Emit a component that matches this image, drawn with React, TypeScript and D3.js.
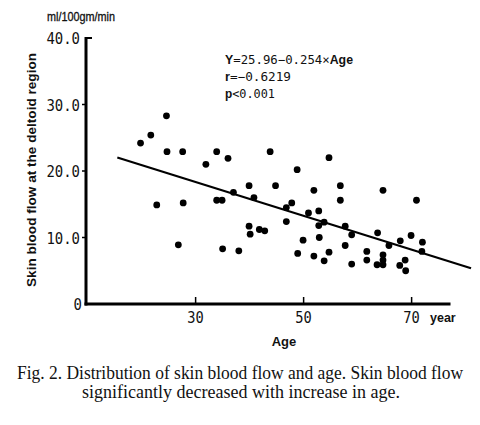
import React from "react";
import * as d3 from "d3";

const ages: number[] = [
  19.8, 21.7, 24.6, 24.7, 27.6, 33.9, 36.0, 31.9, 37.0, 22.8,
  27.7, 33.9, 34.9, 26.8, 35.0, 38.0, 43.8, 54.7, 48.8, 39.9,
  44.8, 51.9, 56.8, 64.7, 40.8, 47.8, 46.8, 56.8, 70.9, 50.9,
  52.8, 46.8, 52.8, 53.8, 39.9, 40.1, 41.8, 42.8, 57.7, 63.7,
  58.9, 49.9, 52.9, 69.9, 67.9, 72.0, 57.7, 65.8, 48.9, 51.9,
  54.7, 53.8, 61.7, 71.9, 64.7, 61.7, 64.7, 68.8, 58.9, 63.6,
  64.7, 67.8, 68.9,
];
const flows: number[] = [
  24.2, 25.4, 28.3, 22.9, 22.9, 22.9, 21.9, 21.0, 16.8, 14.9,
  15.2, 15.6, 15.6, 8.9, 8.3, 8.0, 22.9, 22.0, 20.2, 17.8,
  17.8, 17.1, 17.8, 17.1, 16.0, 15.2, 14.5, 15.6, 15.6, 13.7,
  14.0, 12.4, 11.8, 12.3, 11.7, 10.5, 11.2, 11.0, 11.7, 10.7,
  10.4, 9.6, 10.0, 10.3, 9.5, 9.3, 8.8, 8.8, 7.6, 7.2,
  7.8, 6.5, 7.9, 7.9, 7.4, 6.6, 6.6, 6.6, 6.0, 5.9,
  5.9, 5.8, 5.0,
];
const yTicks: number[] = [0, 10, 20, 30, 40];
const yTickLabels: string[] = ["0", "10.0", "20.0", "30.0", "40.0"];
const xTicks: number[] = [30, 50, 70];
const regIntercept = 25.96;
const regSlope = -0.254;
const regRange: number[] = [15.5, 81];

const annotation: string[] = ["25.96−0.254×", "−0.6219", "<0.001"];

export default function App() {
  const x = d3.scaleLinear().domain([9.7, 77.2]).range([86, 450.5]);
  const y = d3.scaleLinear().domain([0, 40]).range([304, 38]);
  const line = d3
    .line<number>()
    .x((a) => x(a))
    .y((a) => y(regIntercept + regSlope * a));
  const mono = "'DejaVu Sans Mono', monospace";
  const sans = "'Liberation Sans', Arial, sans-serif";
  const serif = "'Liberation Serif', 'Times New Roman', serif";
  return (
    <svg
      width={480}
      height={425}
      style={{ position: "absolute", left: 0, top: 0, background: "#fff" }}
    >
      <rect x={0} y={0} width={480} height={425} fill="#fff" />
      {/* unit label */}
      <text x={47} y={21} fontFamily={sans} fontSize={12} textLength={68} lengthAdjust="spacingAndGlyphs" fill="#111" stroke="#111" strokeWidth={0.3}>
        ml/100gm/min
      </text>
      {/* y axis */}
      <line x1={x(9.7)} x2={x(9.7)} y1={y(40) - 1} y2={y(0) + 1.5} stroke="#000" strokeWidth={3} />
      {yTicks.map((t, i) => (
        <g key={"yt" + t}>
          {t > 0 && t < 40 && (
            <line x1={x(9.7) - 4} x2={x(9.7)} y1={y(t)} y2={y(t)} stroke="#000" strokeWidth={1.5} />
          )}
          {t === 40 && (
            <line x1={x(9.7)} x2={x(9.7) + 6} y1={y(t)} y2={y(t)} stroke="#000" strokeWidth={2} />
          )}
          <text
            x={t === 0 ? 82 : 80}
            y={y(t) + 6}
            textAnchor="end"
            fontFamily={mono}
            fontSize={16.5}
            textLength={yTickLabels[i].length * 8.4}
            lengthAdjust="spacingAndGlyphs"
            fill="#111"
          >
            {yTickLabels[i]}
          </text>
        </g>
      ))}
      {/* x axis */}
      <line x1={x(9.7) - 1.5} x2={x(77.2)} y1={y(0)} y2={y(0)} stroke="#000" strokeWidth={3} />
      {xTicks.map((t) => (
        <g key={"xt" + t}>
          <line x1={x(t)} x2={x(t)} y1={y(0)} y2={y(0) - 7} stroke="#000" strokeWidth={1.5} />
          <text
            x={x(t)}
            y={323}
            textAnchor="middle"
            fontFamily={mono}
            fontSize={16}
            textLength={16.5}
            lengthAdjust="spacingAndGlyphs"
            fill="#111"
          >
            {t}
          </text>
        </g>
      ))}
      <text x={430} y={322} fontFamily={sans} fontWeight="bold" fontSize={12.5} fill="#111">
        year
      </text>
      <text x={284} y={346} textAnchor="middle" fontFamily={sans} fontWeight="bold" fontSize={13} fill="#111">
        Age
      </text>
      {/* y title */}
      <text
        transform="translate(36,170) rotate(-90)"
        textAnchor="middle"
        fontFamily={sans}
        fontWeight="bold"
        fontSize={13}
        textLength={234}
        lengthAdjust="spacingAndGlyphs"
        fill="#111"
      >
        Skin blood flow at the deltoid region
      </text>
      {/* regression line */}
      <path d={line(regRange) || ""} stroke="#000" strokeWidth={2.2} fill="none" />
      {/* points */}
      {ages.map((a, i) => (
        <circle key={i} cx={x(a)} cy={y(flows[i])} r={3.4} fill="#000" />
      ))}
      {/* annotation */}
      <text x={225} y={64} fontSize={12} fill="#111" textLength={128} lengthAdjust="spacingAndGlyphs">
        <tspan fontFamily={sans} fontWeight="bold">Y</tspan>
        <tspan fontFamily={mono}>=</tspan>
        <tspan fontFamily={mono}>{annotation[0]}</tspan>
        <tspan fontFamily={sans} fontWeight="bold">Age</tspan>
      </text>
      <text x={225} y={81} fontSize={12} fill="#111" textLength={66} lengthAdjust="spacingAndGlyphs">
        <tspan fontFamily={sans} fontWeight="bold">r</tspan>
        <tspan fontFamily={mono}>={annotation[1]}</tspan>
      </text>
      <text x={225} y={98} fontSize={12} fill="#111" textLength={50} lengthAdjust="spacingAndGlyphs">
        <tspan fontFamily={sans} fontWeight="bold">p</tspan>
        <tspan fontFamily={mono}>{annotation[2]}</tspan>
      </text>
      {/* caption */}
      <text x={17} y={379} fontFamily={serif} fontSize={18} textLength={446} lengthAdjust="spacingAndGlyphs" fill="#111">
        Fig. 2. Distribution of skin blood flow and age. Skin blood flow
      </text>
      <text x={82} y={398} fontFamily={serif} fontSize={18} textLength={318} lengthAdjust="spacingAndGlyphs" fill="#111">
        significantly decreased with increase in age.
      </text>
    </svg>
  );
}
